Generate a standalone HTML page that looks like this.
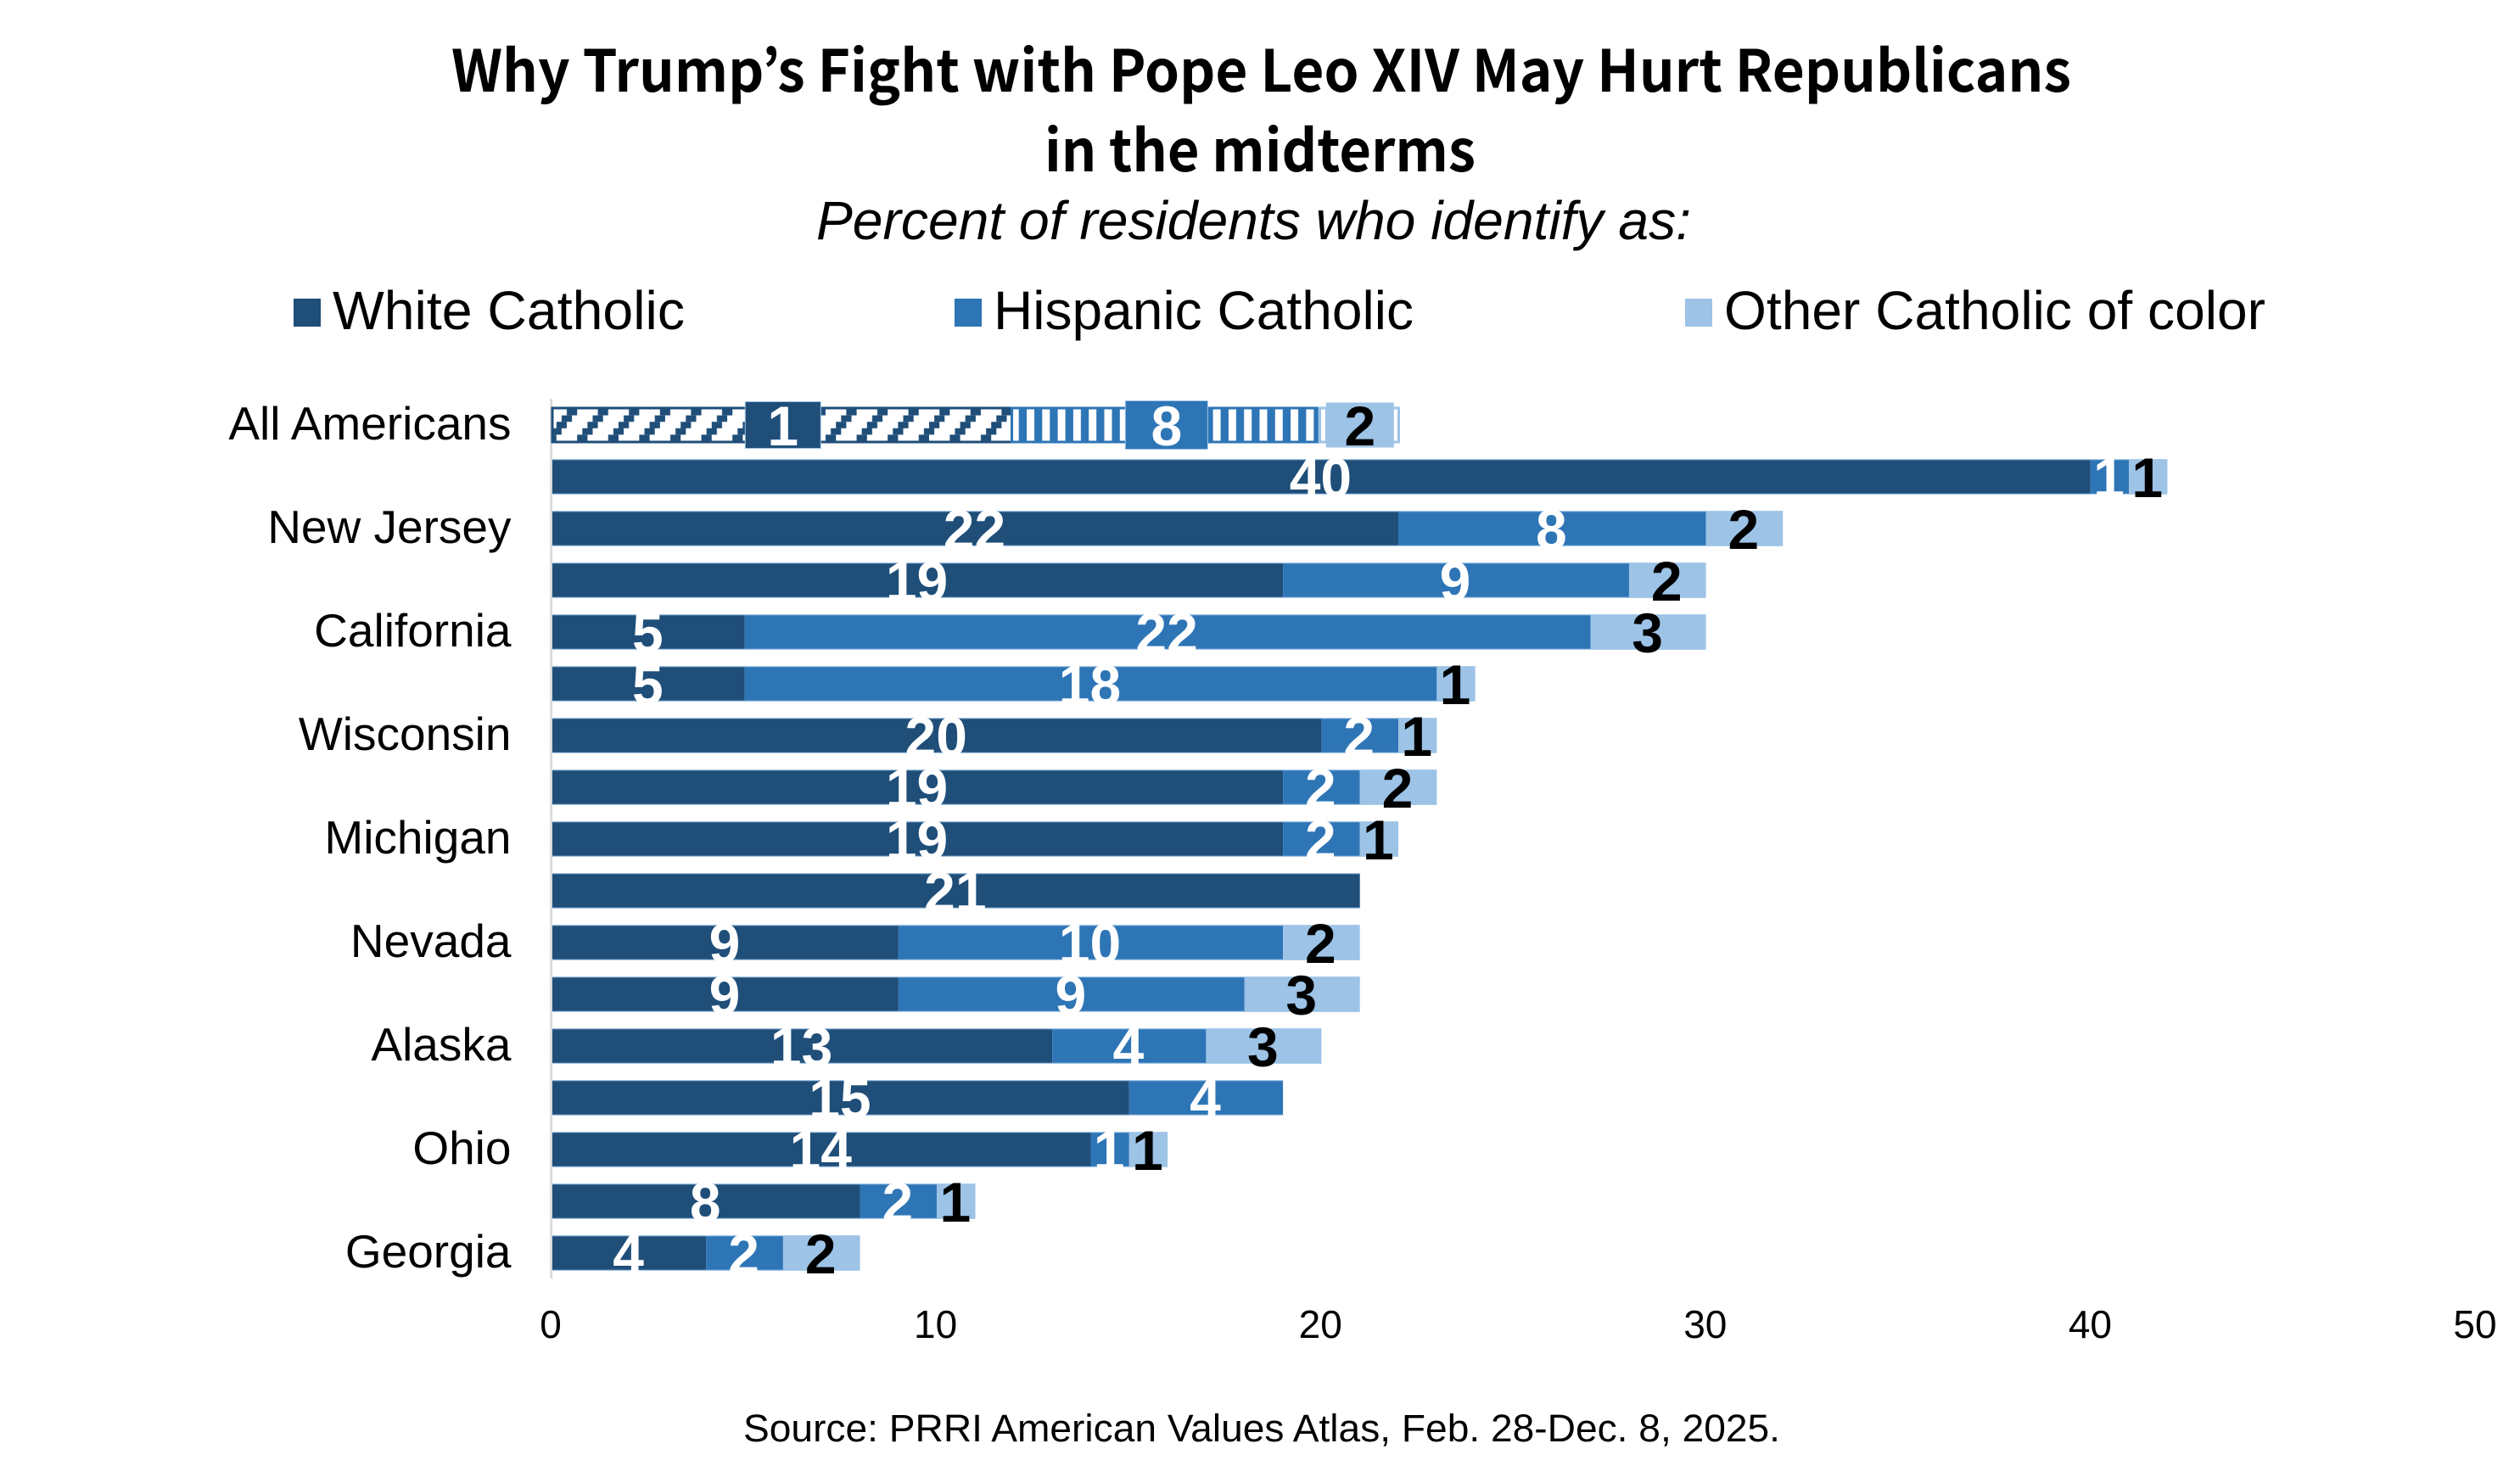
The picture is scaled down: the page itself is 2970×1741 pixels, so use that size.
<!DOCTYPE html>
<html lang="en">
<head>
<meta charset="utf-8">
<title>Why Trump's Fight with Pope Leo XIV May Hurt Republicans</title>
<style>
html,body{margin:0;padding:0;background:#fff;}
svg{display:block;}
text{font-family:"Liberation Sans",Arial,sans-serif;fill:#000;}
.title{font-family:"Noto Sans CJK JP","Liberation Sans",sans-serif;font-weight:700;font-size:68px;}
</style>
</head>
<body>
<svg id="chart" xmlns="http://www.w3.org/2000/svg" width="2970" height="1741" viewBox="0 0 2970 1741">
  <defs>
    <pattern id="hatch-white" patternUnits="userSpaceOnUse" width="36.6" height="45.6" patternTransform="translate(637.5 482)">
      <rect width="36.6" height="45.6" fill="#fff"/>
      <rect x="0" y="38" width="12.2" height="7.6" fill="#1F4E79"/>
      <rect x="6.1" y="30.4" width="12.2" height="7.6" fill="#1F4E79"/>
      <rect x="12.2" y="22.8" width="12.2" height="7.6" fill="#1F4E79"/>
      <rect x="18.3" y="15.2" width="12.2" height="7.6" fill="#1F4E79"/>
      <rect x="24.4" y="7.6" width="12.2" height="7.6" fill="#1F4E79"/>
      <rect x="30.5" y="0" width="6.1" height="7.6" fill="#1F4E79"/>
      <rect x="0" y="0" width="6.1" height="7.6" fill="#1F4E79"/>
    </pattern>
    <pattern id="hatch-hispanic" patternUnits="userSpaceOnUse" width="18.3" height="40" patternTransform="translate(1210 0)">
      <rect width="18.3" height="40" fill="#2E75B6"/>
      <rect x="0" y="0" width="9" height="40" fill="#fff"/>
    </pattern>
    <pattern id="hatch-other" patternUnits="userSpaceOnUse" width="85" height="40" patternTransform="translate(1557 0)">
      <rect width="85" height="40" fill="#9DC3E6"/>
      <rect x="0" y="0" width="5" height="40" fill="#fff"/>
    </pattern>
  </defs>

  <text class="title" x="532" y="108" textLength="1909" lengthAdjust="spacingAndGlyphs">Why Trump’s Fight with Pope Leo XIV May Hurt Republicans</text>
  <text class="title" x="1231" y="202" textLength="508" lengthAdjust="spacingAndGlyphs">in the midterms</text>
  <text x="962" y="282" font-size="64" font-style="italic" textLength="1031" lengthAdjust="spacingAndGlyphs">Percent of residents who identify as:</text>

  <g>
    <g>
      <rect x="346" y="352" width="32" height="33" fill="#1F4E79"/>
      <text x="392" y="388" font-size="64" textLength="415" lengthAdjust="spacingAndGlyphs">White Catholic</text>
    </g>
    <g>
      <rect x="1125" y="352" width="32" height="33" fill="#2E75B6"/>
      <text x="1171" y="388" font-size="64" textLength="495" lengthAdjust="spacingAndGlyphs">Hispanic Catholic</text>
    </g>
    <g>
      <rect x="1986" y="352" width="32" height="33" fill="#9DC3E6"/>
      <text x="2032" y="388" font-size="64" textLength="638" lengthAdjust="spacingAndGlyphs">Other Catholic of color</text>
    </g>
  </g>

  <line x1="649.7" y1="470" x2="649.7" y2="1507" stroke="#d9d9d9" stroke-width="2.8"/>
  <g id="bars"></g>
  <g id="y-labels"></g>
  <g id="x-labels"></g>

  <text x="876" y="1699" font-size="45" textLength="1222" lengthAdjust="spacingAndGlyphs">Source: PRRI American Values Atlas, Feb. 28-Dec. 8, 2025.</text>
</svg>

<script>
const categories = ["All Americans", "", "New Jersey", "", "California", "", "Wisconsin", "", "Michigan", "", "Nevada", "", "Alaska", "", "Ohio", "", "Georgia"];
const whiteCatholic = [11.95, 40, 22, 19, 5, 5, 20, 19, 19, 21, 9, 9, 13, 15, 14, 8, 4];
const hispanicCatholic = [8, 1, 8, 9, 22, 18, 2, 2, 2, 0, 10, 9, 4, 4, 1, 2, 2];
const otherCatholic = [2.06, 1, 2, 2, 3, 1, 1, 2, 1, 0, 2, 3, 3, 0, 1, 1, 2];
const firstRowPrinted = ["1", "8", "2"];
const tickLabels = [0, 10, 20, 30, 40, 50];

const NS = "http://www.w3.org/2000/svg";
const seriesNames = ["white-catholic", "hispanic-catholic", "other-catholic-of-color"];
const seriesFill = ["#1F4E79", "#2E75B6", "#9DC3E6"];
const seriesHatch = ["url(#hatch-white)", "url(#hatch-hispanic)", "url(#hatch-other)"];
const seriesText = ["#fff", "#fff", "#000"];
const boxWidth = [89, 97, 79];
const boxHeight = [55, 57, 52];

function xScale(v) { return 651 + v * 45.32; }
function tickX(v) { return 649 + v * 45.36; }
function rowCenter(i) { return 501 + i * 61; }

function make(tag, attrs) {
  const el = document.createElementNS(NS, tag);
  for (const k in attrs) el.setAttribute(k, attrs[k]);
  return el;
}

const barsGroup = document.getElementById("bars");
const labelLayer = make("g", {});



categories.forEach(function (cat, i) {
  const vals = [whiteCatholic[i], hispanicCatholic[i], otherCatholic[i]];
  const cy = rowCenter(i);
  let acc = 0;
  const total = vals[0] + vals[1] + vals[2];

  vals.forEach(function (v, s) {
    if (v > 0) {
      const x0 = xScale(acc);
      const w = xScale(acc + v) - x0;
      const bar = make("rect", { x: x0, width: w });
      
      
      if (i === 0) {
        bar.setAttribute("y", cy - 20);
        bar.setAttribute("height", 40);
        bar.setAttribute("fill", seriesHatch[s]);
        bar.setAttribute("stroke", seriesFill[s]);
        bar.setAttribute("stroke-width", 3);
      } else {
        bar.setAttribute("y", cy - 20.3);
        bar.setAttribute("height", 40.6);
        bar.setAttribute("fill", seriesFill[s]);
      }
      barsGroup.appendChild(bar);

      const cx = xScale(acc + v / 2) + (i === 0 ? 1 : -1);
      if (i === 0) {
        const box = make("rect", { x: cx - boxWidth[s] / 2, y: cy - boxHeight[s] / 2, width: boxWidth[s], height: boxHeight[s], fill: seriesFill[s], stroke: "#9DC3E6", "stroke-width": 1 });
        
        
        labelLayer.appendChild(box);
      }
      const t = make("text", { x: cx, y: cy + 24, "text-anchor": "middle", "font-size": 66, "font-weight": 700 });
      t.style.fill = seriesText[s];
      t.textContent = i === 0 ? firstRowPrinted[s] : String(v);
      
      
      labelLayer.appendChild(t);
    }
    acc += v;
  });

  if (i > 0) {
    const edgeTop = make("line", { x1: xScale(0), x2: xScale(total), y1: cy - 20.3, y2: cy - 20.3, stroke: "#9DC3E6", "stroke-width": 1.4, opacity: 0.75 });
    
    
    barsGroup.appendChild(edgeTop);
    const edgeBottom = make("line", { x1: xScale(0), x2: xScale(total), y1: cy + 20.3, y2: cy + 20.3, stroke: "#9DC3E6", "stroke-width": 1.4, opacity: 0.75 });
    
    
    barsGroup.appendChild(edgeBottom);
  }

  if (cat) {
    const lab = make("text", { x: 602.5, y: cy + 17, "text-anchor": "end", "font-size": 55 });
    lab.textContent = cat;
    
    
    document.getElementById("y-labels").appendChild(lab);
  }
});
barsGroup.appendChild(labelLayer);

tickLabels.forEach(function (tick) {
  const t = make("text", { x: tickX(tick), y: 1577, "text-anchor": "middle", "font-size": 46 });
  t.textContent = String(tick);
  
  
  document.getElementById("x-labels").appendChild(t);
});
</script>
</body>
</html>
